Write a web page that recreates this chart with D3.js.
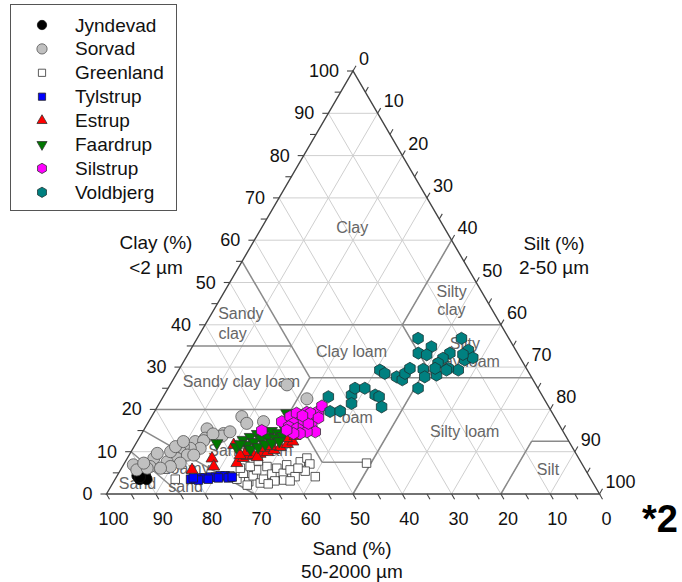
<!DOCTYPE html>
<html><head><meta charset="utf-8">
<script src="https://cdn.jsdelivr.net/npm/d3@7"></script>
<style>
body{margin:0;background:#fff}
svg{display:block}
text{font-family:"Liberation Sans",Arial,Helvetica,sans-serif}
</style>
</head><body>
<svg id="chart" width="682" height="582"></svg>
<script>
// ---------- data: [sand %, clay %]  (silt = 100 - sand - clay) ----------
const seriesNames = ["Jyndevad","Sorvad","Greenland","Tylstrup","Estrup","Faardrup","Silstrup","Voldbjerg"];
const jyndevad = [[91.6,4.3],[90.7,4.5],[90.0,4.3],[91.5,3.5],[90.6,3.8],[90.6,5.0],[90.1,3.5],[91.2,4.0]];
const sorvad = [[50.5,25.8],[48.1,22.5],[59.6,17.1],[63.4,18.3],[63.2,16.7],[69.1,14.3],[69.7,13.7],[71.9,15.4],[73.4,13.2],[75.8,12.4],[74.0,12.6],[75.6,10.8],[77.6,10.8],[78.8,11.2],[80.0,10.0],[81.8,9.2],[81.5,8.4],[79.0,9.2],[77.7,9.2],[81.4,7.3],[83.9,7.6],[83.8,6.5],[86.2,8.4],[84.9,9.6],[87.9,6.5],[86.0,6.1],[91.1,6.9],[91.0,5.7],[88.7,6.1],[88.8,7.3],[82.0,10.0],[80.4,11.2],[78.2,12.4],[71.3,14.2],[67.6,14.7]];
const greenland = [[84.3,3.5],[71.8,3.5],[69.8,4.9],[69.7,2.9],[68.1,4.3],[67.5,2.6],[66.7,5.7],[67.6,6.5],[66.4,3.5],[64.2,6.5],[64.1,4.7],[62.4,6.1],[64.3,3.1],[61.7,4.9],[62.4,3.3],[60.0,6.9],[59.9,5.7],[59.7,4.1],[56.9,7.6],[55.1,8.5],[55.2,7.1],[55.6,4.1],[57.0,5.4],[69.8,6.1],[66.0,2.4],[61.2,3.1],[43.6,7.3],[65.3,7.8],[72.8,4.3],[70.4,2.1],[58.1,6.1]];
const tylstrup = [[81.2,3.5],[80.2,3.5],[79.1,3.8],[78.1,3.8],[76.9,4.0],[75.9,4.0],[74.8,4.3],[73.8,4.3],[72.9,4.0],[79.7,3.3],[77.6,3.5],[75.4,3.8],[73.4,3.8],[72.5,4.0],[80.5,3.8]];
const estrup = [[79.8,5.7],[74.4,8.4],[75.0,6.5],[68.4,11.6],[69.9,7.3],[68.0,8.5],[67.0,9.0],[65.6,9.2],[64.1,9.5],[62.4,9.9],[60.8,10.4],[59.2,11.1],[57.4,11.8],[56.0,12.4],[55.6,14.3],[58.8,13.2],[57.0,14.4],[62.6,10.9],[61.1,11.3],[66.7,9.9],[68.3,9.2],[65.1,8.7],[56.9,13.2],[54.9,13.7]];
const faardrup = [[53.9,19.1],[71.6,12.0],[65.9,12.8],[64.1,13.5],[62.3,14.2],[60.7,14.7],[59.1,14.9],[58.0,14.4],[56.2,15.1],[65.7,11.6],[63.9,12.3],[62.1,13.0],[60.5,13.5],[59.2,13.2],[57.5,13.7],[65.5,10.6],[63.7,11.1],[61.9,11.8],[60.4,12.1],[58.7,12.5],[68.1,11.1],[55.0,15.6],[67.0,11.8]];
const silstrup = [[55.9,17.1],[61.0,15.0],[53.6,18.3],[51.9,19.1],[49.7,19.3],[47.3,19.5],[49.4,17.9],[52.2,17.1],[53.7,16.7],[55.1,15.9],[53.6,15.5],[52.1,15.9],[50.2,16.3],[50.3,14.7],[52.0,14.7],[53.6,14.3],[54.9,14.3],[55.9,15.1],[51.3,17.5],[50.7,16.7],[45.9,20.8],[49.1,19.1],[48.0,18.0],[51.0,18.5]];
const voldbjerg = [[18.4,36.8],[16.7,34.8],[20.1,33.3],[18.6,32.9],[9.6,36.8],[9.6,34.0],[13.7,33.3],[15.7,32.1],[17.3,30.9],[11.5,31.7],[14.0,29.3],[15.8,29.7],[19.0,28.1],[24.3,25.0],[29.9,29.3],[29.3,28.5],[27.3,27.7],[26.5,27.0],[25.2,28.5],[23.6,29.7],[21.0,29.5],[21.6,27.7],[18.5,29.7],[43.5,23.0],[44.9,19.5],[42.8,19.6],[38.6,23.4],[37.1,25.0],[39.6,21.4],[35.1,25.0],[33.8,23.4],[33.2,23.0],[33.9,20.6],[9.6,32.2],[16.4,29.3],[11.2,33.0]];

const tickValues = d3.range(0, 101, 10);
const minorTickValues = d3.range(0, 101, 5);
const gridValues = d3.range(10, 100, 10);

// texture class boundaries, each segment [[sand,clay],[sand,clay]]
const boundaries = [
  [[45,40],[0,40]], [[45,55],[45,27.5]], [[65,35],[45,35]], [[0,60],[20,40]],
  [[20,40],[20,27.5]], [[45,27.5],[0,27.5]], [[45,27.5],[52.5,20]], [[80,20],[52.5,20]],
  [[52.5,20],[52.5,7.5]], [[52.5,7.5],[42.5,7.5]], [[22.5,27.5],[50,0]],
  [[20,0],[7.5,12.5]], [[7.5,12.5],[0,12.5]], [[70,0],[85,15]], [[85,0],[90,10]]
];
// class labels: text, sand, clay, anchor
const classLabels = [
  ["Clay",18.6,63.1,"middle"],["Silty",6.1,47.8,"middle"],["clay",8.3,43.5,"middle"],
  ["Sandy",56.0,42.7,"start"],["clay",58.3,38.0,"start"],["Clay loam",33.4,33.8,"middle"],
  ["Sandy clay loam",59.4,26.5,"middle"],["Silty",9.5,35.6,"middle"],["clay loam",11.4,31.3,"middle"],
  ["Loam",41.0,18.1,"middle"],["Silty loam",20.0,14.7,"middle"],["Silt",7.6,5.7,"middle"],
  ["Sandy loam",65.6,10.4,"middle"],["Loamy",80.9,6.1,"middle"],["sand",83.1,1.7,"middle"],["Sand",92.4,2.6,"middle"]
];

// ---------- drawing ----------
const svg = d3.select("#chart");
const xS = d3.scaleLinear().domain([0,100]).range([106.5,599.5]);
const yS = d3.scaleLinear().domain([0,100]).range([494,71]);
const P = (sand, clay) => { const silt = 100 - sand - clay; return [xS(silt + clay/2), yS(clay)]; };
const line = d3.line();

const gGrid = svg.append("g").attr("fill","none").attr("stroke","#cfcfcf").attr("stroke-width",1);
gridValues.forEach(v => {
  gGrid.append("path").attr("d", line([P(100-v,v), P(0,v)]));
  gGrid.append("path").attr("d", line([P(v,100-v), P(v,0)]));
  gGrid.append("path").attr("d", line([P(100-v,0), P(0,100-v)]));
});

svg.append("g").attr("fill","none").attr("stroke","#8a8a8a").attr("stroke-width",1.5)
  .selectAll("path").data(boundaries).join("path")
  .attr("d", d => line(d.map(p => P(p[0],p[1]))));

svg.append("g").attr("fill","#666").attr("font-size",16)
  .selectAll("text").data(classLabels).join("text")
  .attr("x", d => P(d[1],d[2])[0]).attr("y", d => P(d[1],d[2])[1])
  .attr("text-anchor", d => d[3]).attr("dominant-baseline","central")
  .text(d => d[0]);

// outer triangle
svg.append("path").attr("d", line([P(100,0),P(0,0),P(0,100)]) + "Z")
  .attr("fill","none").attr("stroke","#444").attr("stroke-width",1.4);

// ticks
const gT = svg.append("g").attr("stroke","#444").attr("stroke-width",1.1);
const tl = 6;
minorTickValues.forEach(v => {
  let b = P(v,0); gT.append("line").attr("x1",b[0]).attr("y1",b[1]).attr("x2",b[0]+0.5*tl).attr("y2",b[1]+0.866*tl);
  b = P(100-v,v); gT.append("line").attr("x1",b[0]).attr("y1",b[1]).attr("x2",b[0]-tl).attr("y2",b[1]);
  b = P(0,100-v); gT.append("line").attr("x1",b[0]).attr("y1",b[1]).attr("x2",b[0]+0.5*tl).attr("y2",b[1]-0.866*tl);
});
const gL = svg.append("g").attr("fill","#111").attr("font-size",18);
tickValues.forEach(v => {
  let b = P(v,0);
  gL.append("text").attr("x",b[0]+7).attr("y",b[1]+25).attr("text-anchor","middle").attr("dominant-baseline","central").text(v);
  b = P(100-v,v);
  gL.append("text").attr("x",b[0]-14).attr("y",b[1]).attr("text-anchor","end").attr("dominant-baseline","central").text(v);
  b = P(0,100-v);
  gL.append("text").attr("x",b[0]+6).attr("y",b[1]-12).attr("text-anchor","start").attr("dominant-baseline","central").text(v);
});

// axis titles
const titles = [["Clay (%)",156,242],["<2 µm",156,267],["Silt (%)",554,243],["2-50 µm",554,267],["Sand (%)",352,548],["50-2000 µm",352,571]];
svg.append("g").attr("fill","#111").attr("font-size",19).selectAll("text").data(titles).join("text")
  .attr("x",d=>d[1]).attr("y",d=>d[2]).attr("text-anchor","middle").attr("dominant-baseline","central").text(d=>d[0]);

// symbols
const hexagon = { draw(ctx, size){ const r = Math.sqrt(size*2/(3*Math.sqrt(3)));
  for(let i=0;i<6;i++){ const a = Math.PI/3*i + Math.PI/6; const x=r*Math.cos(a), y=r*Math.sin(a); i?ctx.lineTo(x,y):ctx.moveTo(x,y);} ctx.closePath(); } };
const styles = [
  {data:jyndevad, type:d3.symbolCircle, size:95, fill:"#000000", stroke:"#111", rot:0},
  {data:sorvad, type:d3.symbolCircle, size:115, fill:"#c0c0c0", stroke:"#555", rot:0},
  {data:greenland, type:d3.symbolSquare, size:72, fill:"#ffffff", stroke:"#333", rot:0},
  {data:tylstrup, type:d3.symbolSquare, size:72, fill:"#0000ff", stroke:"#222", rot:0},
  {data:estrup, type:d3.symbolTriangle, size:62, fill:"#ff0000", stroke:"#333", rot:0},
  {data:faardrup, type:d3.symbolTriangle, size:62, fill:"#007700", stroke:"#333", rot:180},
  {data:silstrup, type:hexagon, size:95, fill:"#ff00ff", stroke:"#333", rot:0},
  {data:voldbjerg, type:hexagon, size:95, fill:"#008080", stroke:"#1c3434", rot:0}
];
styles.forEach(s => {
  svg.append("g").selectAll("path").data(s.data).join("path")
    .attr("d", d3.symbol().type(s.type).size(s.size))
    .attr("transform", d => { const p = P(d[0],d[1]); return `translate(${p[0]},${p[1]}) rotate(${s.rot})`; })
    .attr("fill", s.fill).attr("stroke", s.stroke).attr("stroke-width",0.8);
});

// legend
const lg = svg.append("g");
lg.append("rect").attr("x",10.5).attr("y",4.5).attr("width",166).attr("height",206)
  .attr("fill","#fff").attr("stroke","#555").attr("stroke-width",1);
seriesNames.forEach((n,i) => {
  const y = 25 + i*23.9, s = styles[i];
  lg.append("path").attr("d", d3.symbol().type(s.type).size(s.size*0.72)())
    .attr("transform",`translate(42,${y}) rotate(${s.rot})`)
    .attr("fill",s.fill).attr("stroke",s.stroke).attr("stroke-width",0.8);
  lg.append("text").attr("x",75).attr("y",y).attr("dominant-baseline","central")
    .attr("font-size",19).attr("fill","#111").text(n);
});

svg.append("text").attr("x",660).attr("y",519).attr("text-anchor","middle").attr("dominant-baseline","central")
  .attr("font-size",38).attr("font-weight","bold").attr("fill","#000").text("*2");
</script>
</body></html>
